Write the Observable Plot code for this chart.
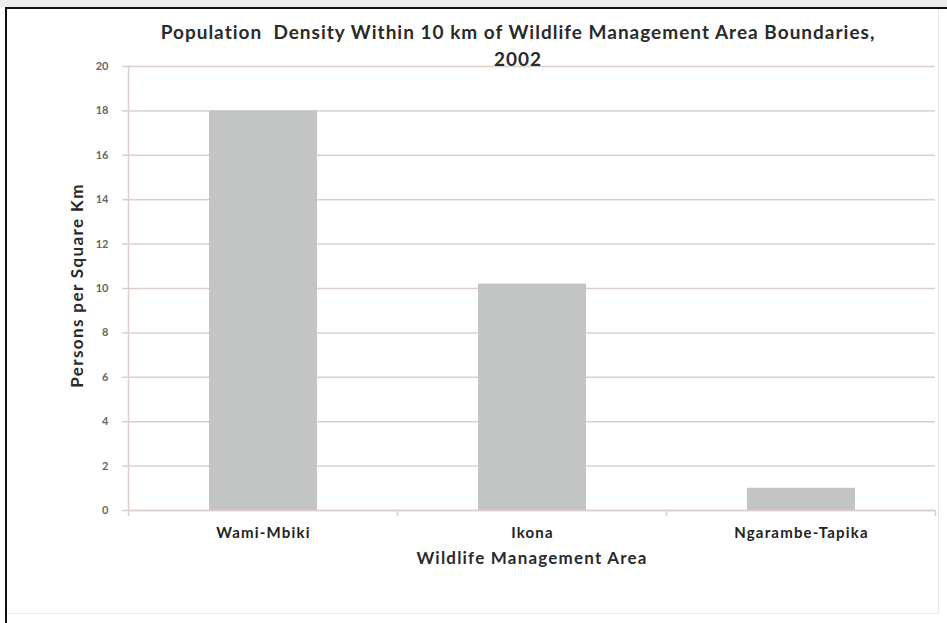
<!DOCTYPE html>
<html>
<head>
<meta charset="utf-8">
<script src="https://cdn.jsdelivr.net/npm/d3@7"></script>
<script src="https://cdn.jsdelivr.net/npm/@observablehq/plot@0.6"></script>
<style>
  html, body { margin: 0; padding: 0; background: #ffffff; }
  body { width: 947px; height: 623px; position: relative; overflow: hidden; font-family: Lato, "Open Sans", sans-serif; }
  #strip { position: absolute; left: 0; top: 0; width: 947px; height: 7px; background: #ececec; }
  #frame { position: absolute; left: 5px; top: 7px; width: 1000px; height: 700px;
           border-left: 2px solid #111; border-top: 2px solid #111; }
  #inner { position: absolute; left: 7px; top: 9px; width: 931px; height: 604px;
           border-right: 1px solid #e6e6e6; border-bottom: 1px solid #eeeeee; }
  #chart { position: absolute; left: 0; top: 0; }
  #chart svg text { white-space: pre; }
</style>
</head>
<body>
<div id="strip"></div>
<div id="frame"></div>
<div id="inner"></div>
<div id="chart"></div>
<script>
// Population density near Wildlife Management Areas, 2002
const areas = ["Wami-Mbiki", "Ikona", "Ngarambe-Tapika"];
const density = [18, 10.2, 1];
const yTicks = [0, 2, 4, 6, 8, 10, 12, 14, 16, 18, 20];
const titleText = "Population  Density Within 10 km of Wildlife Management Area Boundaries,\n2002";
const xTitle = "Wildlife Management Area";
const yTitle = "Persons per Square Km";

const rows = areas.map((a, i) => ({area: a, value: density[i]}));

const gridColor = "#dccfcb";
const font = "Lato, 'Open Sans', sans-serif";

// short tick marks on the category axis, at the band boundaries
function bandBoundaryTicks(index, scales) {
  const x = scales.x;
  const step = x.step(), bw = x.bandwidth();
  const gap = (step - bw) / 2;
  const y0 = scales.y(0);
  const pos = [x(areas[0]) - gap, ...areas.map(a => x(a) + bw + gap)];
  const g = d3.create("svg:g");
  g.selectAll("line").data(pos).join("line")
    .attr("x1", d => d).attr("x2", d => d)
    .attr("y1", y0).attr("y2", y0 + 6)
    .attr("stroke", gridColor).attr("stroke-width", 1.5);
  return g.node();
}

const chart = Plot.plot({
  width: 947,
  height: 623,
  marginLeft: 128,
  marginRight: 12,
  marginTop: 66,
  marginBottom: 113,
  style: {background: "transparent", fontFamily: font, overflow: "visible"},
  x: {domain: areas, paddingInner: 0.6, paddingOuter: 0.3, label: null},
  y: {domain: [0, 20], ticks: yTicks, label: null},
  marks: [
    Plot.gridY(yTicks, {stroke: gridColor, strokeOpacity: 1, strokeWidth: 1.5}),
    Plot.frame({anchor: "left", stroke: gridColor, strokeWidth: 1.5}),
    Plot.barY(rows, {x: "area", y: "value", fill: "#c3c4c4"}),
    Plot.ruleY([0], {stroke: gridColor, strokeWidth: 1.5}),
    bandBoundaryTicks,
    Plot.axisY(yTicks, {
      tickSize: 6, tickPadding: 14, stroke: gridColor, strokeWidth: 1.5,
      fontSize: 11, fontWeight: "bold", fill: "#666", tickFormat: d => String(d), label: null
    }),
    Plot.axisX({
      tickSize: 0, tickPadding: 17, fontSize: 15, fontWeight: "bold",
      fill: "#222", label: null
    }),
    Plot.text([titleText], {
      frameAnchor: "top", dx: -14, dy: -22.5, lineAnchor: "middle", lineHeight: 1.42,
      fontSize: 19, fontWeight: "bold", fill: "#2a2a2a"
    }),
    Plot.text([xTitle], {
      frameAnchor: "bottom", dy: 53, fontSize: 17, fontWeight: "bold", fill: "#2a2a2a"
    }),
    Plot.text([yTitle], {
      frameAnchor: "left", textAnchor: "middle", dx: -51, dy: -3, rotate: -90,
      fontSize: 17, fontWeight: "bold", fill: "#2a2a2a"
    })
  ]
});

// wider tracking on the titles and category labels
d3.select(chart).selectAll("text").each(function () {
  const t = this.textContent;
  let ls = 0;
  if (t.startsWith("Population")) ls = 1.0;
  else if (t === xTitle) ls = 1.2;
  else if (t === yTitle) ls = 1.4;
  else if (areas.includes(t)) ls = 1.2;
  if (ls) d3.select(this).style("letter-spacing", ls + "px");
});

document.getElementById("chart").appendChild(chart);
</script>
</body>
</html>
